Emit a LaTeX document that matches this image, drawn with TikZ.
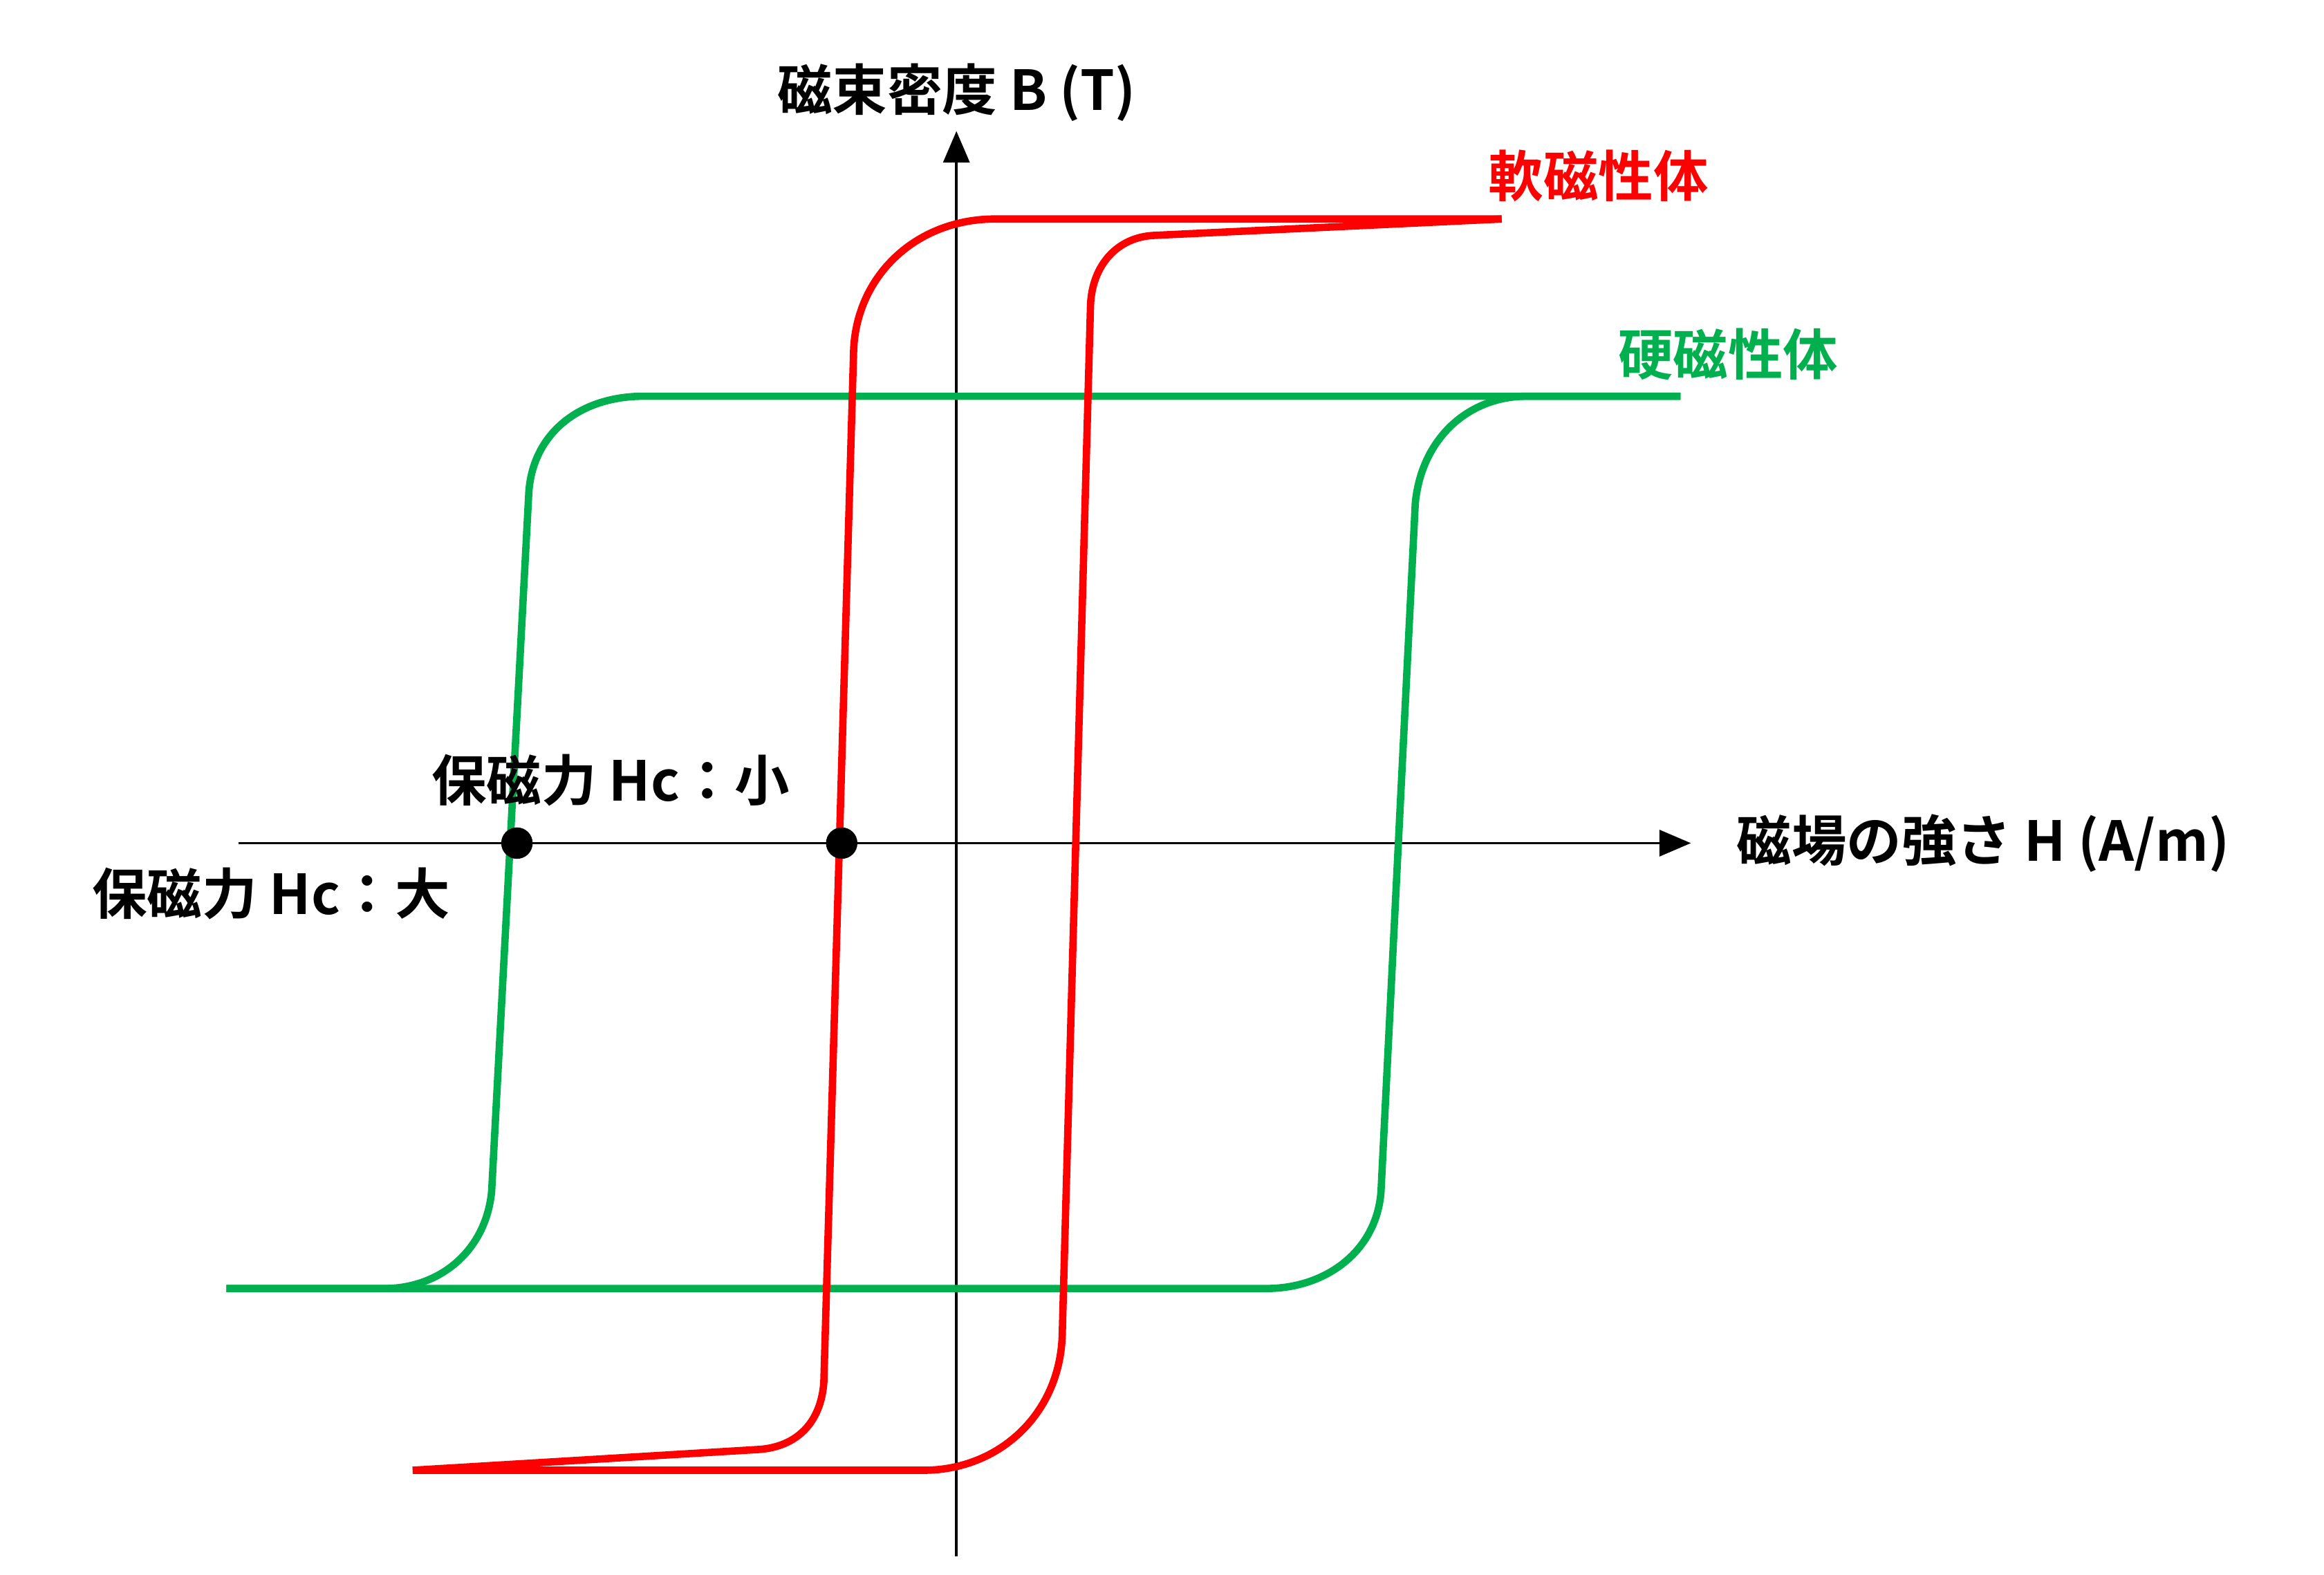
\documentclass[tikz,border=0pt]{standalone}
\usepackage{fontspec}
\newfontfamily\jpfont{Noto Sans CJK JP}[BoldFont={Noto Sans CJK JP Bold}]
\usetikzlibrary{arrows.meta}
\definecolor{softred}{rgb}{1.0,0.0,0.0}
\definecolor{hardgreen}{rgb}{0.0,0.69,0.31}
\tikzset{
  lbl/.style={font=\jpfont\bfseries\fontsize{10.5}{12}\selectfont, inner sep=0pt},
  axis/.style={-{Triangle[length=6pt,width=5pt]}, line width=0.5pt},
  loop/.style={line width=1.4pt},
  dot/.style={circle, fill=black, minimum size=6pt, inner sep=0pt}
}
\begin{document}
\begin{tikzpicture}[x=0.01cm, y=-0.01cm]
\useasboundingbox (0,0) rectangle (1560,1057);

% axes
\coordinate (xs) at (160,566);
\coordinate (xe) at (1135,566);
\coordinate (ys) at (642,1045);
\coordinate (ye) at (642,88);
\draw[axis] (xs) -- (xe);
\draw[axis] (ys) -- (ye);
\node[lbl, anchor=west] (hlab) at (1165,566) {磁場の強さ H (A/m)};
\node[lbl] (blab) at (642,62) {磁束密度 B (T)};

% hard magnetic loop
\draw[loop, hardgreen] (1128,266) -- (432,266) .. controls (390,266) and (358,290) .. (355,330)
  -- (330,800) .. controls (326,840) and (295,865) .. (258,865) -- (152,865);
\draw[loop, hardgreen] (152,865) -- (850,865) .. controls (890,865) and (924,840) .. (927,800)
  -- (950,338) .. controls (954,295) and (985,266) .. (1025,266) -- (1128,266);

% soft magnetic loop
\draw[loop, softred] (1008,147) -- (668,147) .. controls (615,147) and (575,185) .. (573,235)
  -- (553,928) .. controls (551,955) and (535,971) .. (510,973) -- (277,987);
\draw[loop, softred] (277,987) -- (620,987) .. controls (670,987) and (711,950) .. (713,897)
  -- (732,205) .. controls (733,178) and (750,159) .. (775,158) -- (1008,147);

% coercivity points
\node[dot] (hchard) at (347,566) {};
\node[dot] (hcsoft) at (565,566) {};
\node[lbl] (small) at (410,524) {保磁力 Hc：小};
\node[lbl] (large) at (182,600) {保磁力 Hc：大};

\node[lbl, text=softred] (soft) at (1073,118) {軟磁性体};
\node[lbl, text=hardgreen] (hard) at (1160,238) {硬磁性体};
\end{tikzpicture}
\end{document}
